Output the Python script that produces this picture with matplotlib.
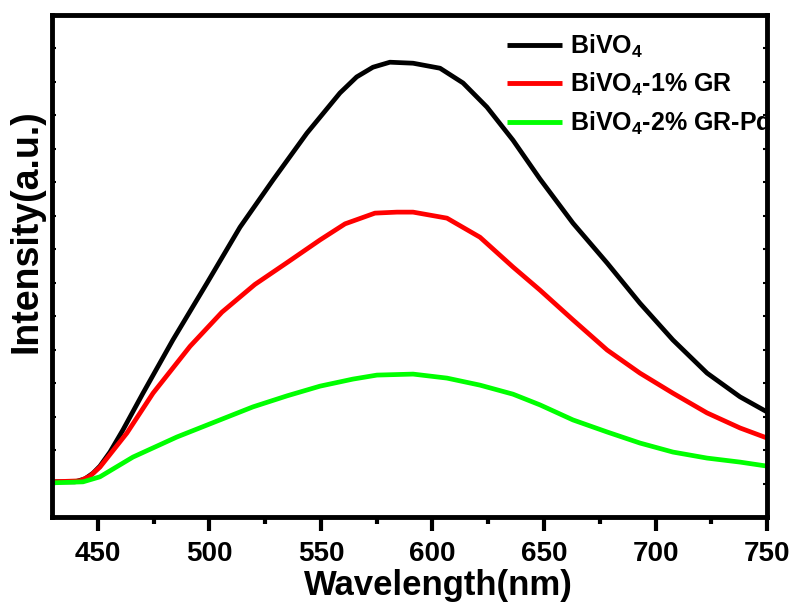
import matplotlib
matplotlib.use("Agg")
import matplotlib.pyplot as plt
from matplotlib.ticker import MultipleLocator

plt.rcParams['font.family'] = ['Liberation Sans', 'DejaVu Sans']
plt.rcParams['font.weight'] = 'bold'
plt.rcParams['mathtext.fontset'] = 'custom'
plt.rcParams['mathtext.rm'] = 'Liberation Sans:bold'
plt.rcParams['mathtext.default'] = 'rm'

# ---- data ----
wl_black = [429.4, 439.7, 444.2, 447.8, 450.9, 455.4, 461.2, 470.2, 483.6, 498.9,
            513.7, 528.5, 543.7, 558.5, 566.0, 573.3, 580.9, 591.3, 603.4, 613.7, 624.4,
            636.1, 648.2, 663.0, 678.3, 693.0, 707.8, 723.1, 737.9, 750.0]
int_black = [1.05, 1.05, 1.14, 1.31, 1.52, 1.94, 2.60, 3.70, 5.29, 6.99,
             8.66, 10.07, 11.47, 12.67, 13.15, 13.44, 13.59, 13.56, 13.41, 12.97, 12.25,
             11.26, 10.10, 8.78, 7.59, 6.39, 5.29, 4.30, 3.59, 3.14]

wl_red = [429.4, 441.9, 446.4, 450.9, 463.0, 474.7, 491.3, 505.6, 520.4, 535.2,
          549.6, 560.8, 574.2, 584.1, 591.3, 606.5, 621.3, 636.1, 648.2, 663.0,
          678.3, 693.0, 707.8, 723.1, 737.9, 750.0]
int_red = [1.05, 1.08, 1.22, 1.49, 2.51, 3.70, 5.10, 6.12, 6.95, 7.62,
           8.28, 8.76, 9.08, 9.11, 9.11, 8.93, 8.36, 7.47, 6.78, 5.89,
           4.99, 4.30, 3.70, 3.11, 2.66, 2.36]

wl_green = [429.4, 443.3, 450.9, 465.7, 485.4, 504.7, 519.5, 534.8, 549.6, 564.3,
            575.1, 591.3, 606.5, 621.3, 636.1, 648.2, 663.0, 678.3, 693.0, 707.8,
            723.1, 737.9, 750.0]
int_green = [1.02, 1.05, 1.20, 1.79, 2.39, 2.90, 3.29, 3.62, 3.91, 4.12,
             4.24, 4.27, 4.15, 3.94, 3.67, 3.35, 2.90, 2.54, 2.21, 1.94,
             1.76, 1.64, 1.52]

labels = [r'BiVO$_4$', r'BiVO$_4$-1% GR', r'BiVO$_4$-2% GR-Pd']
colors = ['#000000', '#ff0000', '#00ff00']
xticks = [450, 500, 550, 600, 650, 700, 750]

fig = plt.figure(figsize=(7.95, 6.06), dpi=100)
ax = fig.add_axes([0.0654, 0.1469, 0.8994, 0.8283])

for wl, it, lab, c in zip([wl_black, wl_red, wl_green],
                          [int_black, int_red, int_green], labels, colors):
    ax.plot(wl, it, color=c, lw=3.4, label=lab, solid_joinstyle='round',
            solid_capstyle='butt')

ax.set_xlim(429.4, 750)
ax.set_ylim(0, 15)
ax.set_xticks(xticks)
ax.xaxis.set_minor_locator(MultipleLocator(25))
ax.yaxis.set_major_locator(MultipleLocator(1))
ax.set_yticklabels([])

for s in ax.spines.values():
    s.set_linewidth(3.5)

ax.tick_params(axis='x', which='major', direction='out', length=10, width=3,
               labelsize=20, pad=7, top=False)
ax.tick_params(axis='x', which='minor', direction='out', length=5, width=3, top=False)
ax.tick_params(axis='y', which='major', direction='in', length=3, width=1.5,
               left=True, right=True, labelleft=False)
for lab in ax.get_xticklabels():
    lab.set_fontweight('bold')

ax.set_xlabel('Wavelength(nm)', fontsize=25, fontweight='bold')
ax.set_ylabel('Intensity(a.u.)', fontsize=27, fontweight='bold')
ax.xaxis.set_label_coords(0.54, -0.103)
ax.yaxis.set_label_coords(-0.011, 0.57)

leg = ax.legend(loc='upper left', bbox_to_anchor=(0.637, 0.965), frameon=False,
                prop={'size': 18, 'weight': 'bold'}, handlelength=2.2,
                handletextpad=0.3, labelspacing=0.45, borderpad=0, borderaxespad=0)
for h in leg.get_lines():
    h.set_linewidth(3.5)

fig.savefig('out.png', dpi=100)
